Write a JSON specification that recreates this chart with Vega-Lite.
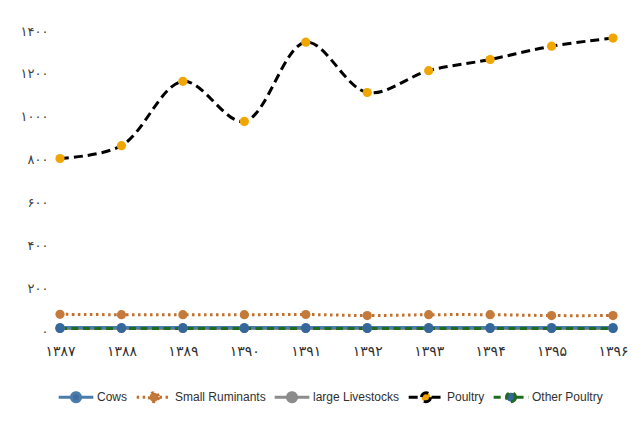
{
  "$schema": "https://vega.github.io/schema/vega-lite/v6.json",
  "width": 573,
  "height": 300,
  "autosize": {"type": "none"},
  "padding": {"left": 50, "top": 31, "right": 19, "bottom": 90},
  "background": "white",
  "config": {
    "view": {"stroke": null},
    "axis": {"grid": false, "ticks": false, "domain": false, "title": null, "labelColor": "#404040", "labelFont": "DejaVu Sans"},
    "legend": {"padding": 0}
  },
  "data": {
    "values": [
      {"year": 1387, "series": "large Livestocks", "value": 12},
      {"year": 1388, "series": "large Livestocks", "value": 12},
      {"year": 1389, "series": "large Livestocks", "value": 12},
      {"year": 1390, "series": "large Livestocks", "value": 12},
      {"year": 1391, "series": "large Livestocks", "value": 12},
      {"year": 1392, "series": "large Livestocks", "value": 12},
      {"year": 1393, "series": "large Livestocks", "value": 12},
      {"year": 1394, "series": "large Livestocks", "value": 12},
      {"year": 1395, "series": "large Livestocks", "value": 12},
      {"year": 1396, "series": "large Livestocks", "value": 12},
      {"year": 1387, "series": "Cows", "value": 16},
      {"year": 1388, "series": "Cows", "value": 16},
      {"year": 1389, "series": "Cows", "value": 16},
      {"year": 1390, "series": "Cows", "value": 16},
      {"year": 1391, "series": "Cows", "value": 16},
      {"year": 1392, "series": "Cows", "value": 16},
      {"year": 1393, "series": "Cows", "value": 16},
      {"year": 1394, "series": "Cows", "value": 16},
      {"year": 1395, "series": "Cows", "value": 16},
      {"year": 1396, "series": "Cows", "value": 16},
      {"year": 1387, "series": "Small Ruminants", "value": 78},
      {"year": 1388, "series": "Small Ruminants", "value": 76},
      {"year": 1389, "series": "Small Ruminants", "value": 76},
      {"year": 1390, "series": "Small Ruminants", "value": 76},
      {"year": 1391, "series": "Small Ruminants", "value": 77},
      {"year": 1392, "series": "Small Ruminants", "value": 72},
      {"year": 1393, "series": "Small Ruminants", "value": 76},
      {"year": 1394, "series": "Small Ruminants", "value": 76},
      {"year": 1395, "series": "Small Ruminants", "value": 72},
      {"year": 1396, "series": "Small Ruminants", "value": 72},
      {"year": 1387, "series": "Poultry", "value": 805},
      {"year": 1388, "series": "Poultry", "value": 865},
      {"year": 1389, "series": "Poultry", "value": 1165},
      {"year": 1390, "series": "Poultry", "value": 978},
      {"year": 1391, "series": "Poultry", "value": 1348},
      {"year": 1392, "series": "Poultry", "value": 1113},
      {"year": 1393, "series": "Poultry", "value": 1215},
      {"year": 1394, "series": "Poultry", "value": 1267},
      {"year": 1395, "series": "Poultry", "value": 1329},
      {"year": 1396, "series": "Poultry", "value": 1367},
      {"year": 1387, "series": "Other Poultry", "value": 12},
      {"year": 1388, "series": "Other Poultry", "value": 12},
      {"year": 1389, "series": "Other Poultry", "value": 12},
      {"year": 1390, "series": "Other Poultry", "value": 12},
      {"year": 1391, "series": "Other Poultry", "value": 12},
      {"year": 1392, "series": "Other Poultry", "value": 12},
      {"year": 1393, "series": "Other Poultry", "value": 12},
      {"year": 1394, "series": "Other Poultry", "value": 12},
      {"year": 1395, "series": "Other Poultry", "value": 12},
      {"year": 1396, "series": "Other Poultry", "value": 12}
    ]
  },
  "encoding": {
    "x": {
      "field": "year", "type": "ordinal",
      "scale": {"type": "point", "padding": 0.163},
      "axis": {
        "labelAngle": 0, "labelFontSize": 14, "labelPadding": 13, "labelColor": "#303030",
        "labelExpr": "replace(replace(replace(replace(replace(replace(replace(replace(replace(replace(datum.label,regexp('0','g'),'۰'),regexp('1','g'),'۱'),regexp('2','g'),'۲'),regexp('3','g'),'۳'),regexp('4','g'),'۴'),regexp('5','g'),'۵'),regexp('6','g'),'۶'),regexp('7','g'),'۷'),regexp('8','g'),'۸'),regexp('9','g'),'۹')"
      }
    },
    "y": {
      "field": "value", "type": "quantitative",
      "scale": {"domain": [0, 1400], "nice": false},
      "axis": {
        "values": [0, 200, 400, 600, 800, 1000, 1200, 1400], "format": "d",
        "labelFontSize": 13, "labelPadding": 2,
        "labelExpr": "replace(replace(replace(replace(replace(replace(replace(replace(replace(replace(datum.label,regexp('0','g'),'۰'),regexp('1','g'),'۱'),regexp('2','g'),'۲'),regexp('3','g'),'۳'),regexp('4','g'),'۴'),regexp('5','g'),'۵'),regexp('6','g'),'۶'),regexp('7','g'),'۷'),regexp('8','g'),'۸'),regexp('9','g'),'۹')"
      }
    }
  },
  "layer": [
    {
      "mark": {"type": "line", "interpolate": "catmull-rom"},
      "encoding": {
        "stroke": {
          "field": "series", "type": "nominal",
          "scale": {
            "domain": ["Cows", "Small Ruminants", "large Livestocks", "Poultry", "Other Poultry"],
            "range": ["#4A7DAA", "#C0702F", "#8C8C8C", "#000000", "#1F6B1F"]
          },
          "legend": {
            "title": null, "orient": "none", "direction": "horizontal",
            "legendX": 7, "legendY": 347,
            "symbolType": "M-1,0H-0.32M0.32,0H1M0.26,0A0.26,0.26,0,1,1,-0.26,0A0.26,0.26,0,1,1,0.26,0Z",
            "symbolSize": 1200, "symbolStrokeWidth": 3.5,
            "labelFont": "Liberation Sans",
            "labelFontSize": 12, "labelColor": "#303030", "labelOffset": 2,
            "columnPadding": 2
          }
        },
        "strokeDash": {
          "field": "series", "type": "nominal",
          "scale": {
            "domain": ["Cows", "Small Ruminants", "large Livestocks", "Poultry", "Other Poultry"],
            "range": [[1, 0], [2.5, 3.5], [1, 0], [9, 5], [7, 4.5]]
          }
        },
        "strokeWidth": {
          "field": "series", "type": "ordinal",
          "scale": {
            "domain": ["Cows", "Small Ruminants", "large Livestocks", "Poultry", "Other Poultry"],
            "range": [3, 3, 3.5, 5, 3.5]
          },
          "legend": null
        }
      }
    },
    {
      "mark": {"type": "point", "filled": true, "opacity": 1, "size": 85, "strokeWidth": 0},
      "encoding": {
        "fill": {
          "field": "series", "type": "nominal",
          "scale": {
            "domain": ["Cows", "Small Ruminants", "large Livestocks", "Poultry", "Other Poultry"],
            "range": ["#3F6E9F", "#C47A3A", "#8C8C8C", "#F0A500", "#35679A"]
          }
        }
      }
    }
  ]
}
